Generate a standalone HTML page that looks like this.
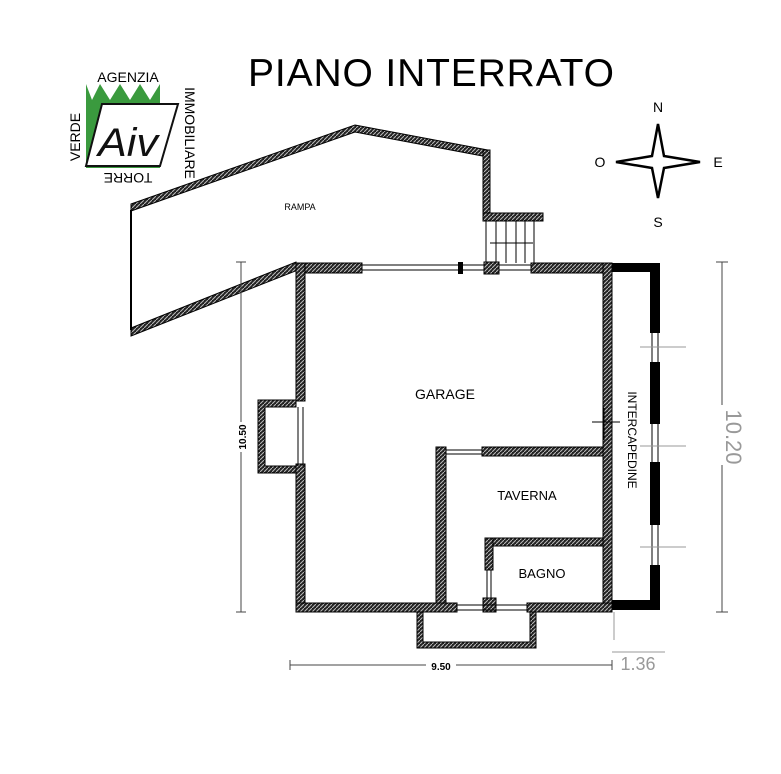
<!DOCTYPE html>
<html><head><style>body{margin:0;background:#fff}svg{display:block}</style></head><body>
<svg width="781" height="774" viewBox="0 0 781 774" xmlns="http://www.w3.org/2000/svg" font-family="Liberation Sans, sans-serif">
<defs>
<pattern id="h" width="4" height="4" patternUnits="userSpaceOnUse"><rect width="4" height="4" fill="#222"/><path d="M0 4L4 0" stroke="#bbb" stroke-width="1"/></pattern>
</defs>
<rect width="781" height="774" fill="#fff"/>
<!-- logo -->
<g>
<path d="M86 84 L86 168 L160 168 L160 84 L150 100 L140 84 L130 100 L120 84 L110 100 L100 84 L92 100 Z" fill="#3a9a3e"/>
<path d="M102 104 L178 104 L160 166 L86 166 Z" fill="#fff" stroke="#111" stroke-width="2"/>
<text x="128" y="156" font-size="40" font-style="italic" fill="#111" text-anchor="middle" textLength="60" lengthAdjust="spacingAndGlyphs">Aiv</text>
<text x="128" y="82" font-size="14" text-anchor="middle">AGENZIA</text>
<text x="80" y="137" font-size="14" text-anchor="middle" transform="rotate(-90 80 137)">VERDE</text>
<text x="185" y="133" font-size="14" text-anchor="middle" transform="rotate(90 185 133)">IMMOBILIARE</text>
<text x="128" y="183" font-size="14" text-anchor="middle" transform="rotate(180 128 178)">TORRE</text>
</g>
<text x="431" y="86" font-size="39" text-anchor="middle" textLength="366" lengthAdjust="spacing">PIANO  INTERRATO</text>
<!-- compass -->
<path d="M658 124 L664 156 L700 162 L664 168 L658 198 L652 168 L616 162 L652 156 Z" fill="#fff" stroke="#000" stroke-width="2.5"/>
<text x="658" y="112" font-size="14" text-anchor="middle">N</text>
<text x="658" y="227" font-size="14" text-anchor="middle">S</text>
<text x="600" y="167" font-size="14" text-anchor="middle">O</text>
<text x="718" y="167" font-size="14" text-anchor="middle">E</text>
<!-- rampa -->
<g fill="url(#h)" stroke="#000" stroke-width="1">
<polygon points="131,204 355,125 488,150 488,157 355,132 131,211"/>
<polygon points="483,150 490,150 490,220 483,220"/>
<polygon points="483,213 543,213 543,221 483,221"/>
<polygon points="131,328 296,262 298,270 131,336"/>
</g>
<line x1="131" y1="210" x2="131" y2="330" stroke="#000" stroke-width="2"/>
<text x="300" y="210" font-size="9" text-anchor="middle">RAMPA</text>
<!-- stairs -->
<g stroke="#000" stroke-width="1">
<line x1="486" y1="221" x2="486" y2="263"/><line x1="496" y1="221" x2="496" y2="263"/><line x1="506" y1="221" x2="506" y2="263"/><line x1="516" y1="221" x2="516" y2="263"/><line x1="525" y1="221" x2="525" y2="263"/><line x1="534" y1="221" x2="534" y2="263"/>
<line x1="490" y1="243" x2="533" y2="243"/>
</g>
<!-- main walls -->
<g fill="url(#h)" stroke="#000" stroke-width="1">
<rect x="296" y="263" width="66" height="10"/>
<rect x="484" y="262" width="15" height="12"/>
<rect x="531" y="263" width="81" height="10"/>
<rect x="296" y="263" width="9" height="138"/>
<rect x="296" y="464" width="9" height="148"/>
<rect x="603" y="263" width="9" height="349"/>
<rect x="296" y="603" width="161" height="9"/>
<rect x="527" y="603" width="85" height="9"/>
<rect x="483" y="598" width="13" height="14"/>
<rect x="436" y="447" width="10" height="156"/>
<rect x="482" y="447" width="121" height="9"/>
<rect x="485" y="538" width="118" height="8"/>
<rect x="485" y="538" width="8" height="32"/>
<path d="M296 400 L258 400 L258 473 L296 473 L296 466 L265 466 L265 407 L296 407 Z"/>
<path d="M417 612 L417 648 L536 648 L536 612 L530 612 L530 642 L423 642 L423 612 Z"/>
</g>
<rect x="458" y="262" width="5" height="12" fill="#000"/>
<g stroke="#000" stroke-width="1" fill="none">
<line x1="362" y1="265" x2="484" y2="265"/><line x1="362" y1="270" x2="484" y2="270"/>
<line x1="499" y1="265" x2="531" y2="265"/><line x1="499" y1="270" x2="531" y2="270"/>
<line x1="298" y1="407" x2="298" y2="466"/><line x1="303" y1="407" x2="303" y2="466"/>
<line x1="457" y1="605" x2="527" y2="605"/><line x1="457" y1="610" x2="527" y2="610"/>
<line x1="446" y1="450" x2="482" y2="450"/><line x1="446" y1="454" x2="482" y2="454"/>
<line x1="487" y1="570" x2="487" y2="598"/><line x1="491" y1="570" x2="491" y2="598"/>
</g>
<!-- intercapedine -->
<g fill="#000">
<rect x="612" y="263" width="48" height="9"/>
<rect x="650" y="263" width="10" height="70"/>
<rect x="650" y="362" width="10" height="62"/>
<rect x="650" y="462" width="10" height="63"/>
<rect x="650" y="565" width="10" height="45"/>
<rect x="612" y="600" width="48" height="10"/>
</g>
<g stroke="#000" stroke-width="1"><line x1="652" y1="333" x2="652" y2="362"/><line x1="658" y1="333" x2="658" y2="362"/><line x1="652" y1="424" x2="652" y2="462"/><line x1="658" y1="424" x2="658" y2="462"/><line x1="652" y1="525" x2="652" y2="565"/><line x1="658" y1="525" x2="658" y2="565"/></g>
<g stroke="#999" stroke-width="1"><line x1="640" y1="347" x2="686" y2="347"/><line x1="640" y1="446" x2="686" y2="446"/><line x1="640" y1="547" x2="686" y2="547"/></g>
<line x1="592" y1="422" x2="620" y2="422" stroke="#000"/><line x1="604" y1="408" x2="604" y2="440" stroke="#000"/>
<!-- labels -->
<text x="445" y="399" font-size="14" text-anchor="middle">GARAGE</text>
<text x="527" y="500" font-size="13" text-anchor="middle">TAVERNA</text>
<text x="542" y="578" font-size="13" text-anchor="middle">BAGNO</text>
<text x="628" y="440" font-size="12" text-anchor="middle" transform="rotate(90 628 440)">INTERCAPEDINE</text>
<!-- dimensions -->
<g stroke="#444" stroke-width="1">
<line x1="241" y1="262" x2="241" y2="612"/><line x1="236" y1="262" x2="246" y2="262"/><line x1="236" y1="612" x2="246" y2="612"/>
<line x1="722" y1="262" x2="722" y2="612"/><line x1="716" y1="262" x2="728" y2="262"/><line x1="716" y1="612" x2="728" y2="612"/>
<line x1="290" y1="665" x2="612" y2="665"/><line x1="290" y1="660" x2="290" y2="670"/><line x1="612" y1="660" x2="612" y2="670"/>
<line x1="614" y1="612" x2="614" y2="640" stroke="#999"/><line x1="612" y1="652" x2="665" y2="652" stroke="#999"/>
</g>
<rect x="234" y="422" width="14" height="30" fill="#fff"/>
<text x="246" y="437" font-size="10" font-weight="bold" text-anchor="middle" transform="rotate(-90 246 437)">10.50</text>
<rect x="426" y="659" width="30" height="12" fill="#fff"/>
<text x="441" y="670" font-size="10" font-weight="bold" text-anchor="middle">9.50</text>
<rect x="716" y="405" width="14" height="60" fill="#fff"/>
<text x="726" y="437" font-size="22" fill="#999" text-anchor="middle" transform="rotate(90 726 437)">10.20</text>
<text x="638" y="670" font-size="18" fill="#999" text-anchor="middle">1.36</text>
</svg>
</body></html>
